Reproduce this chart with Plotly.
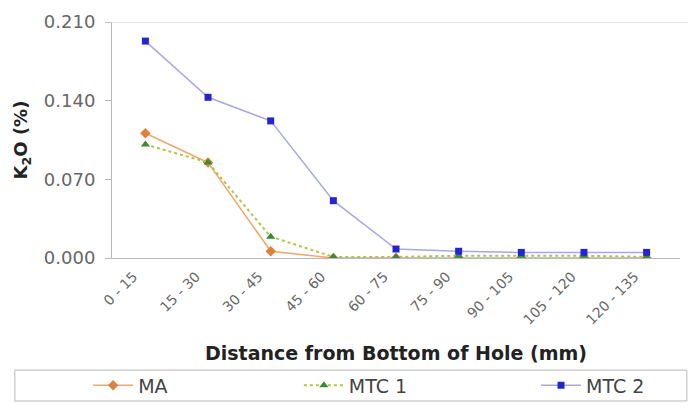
import plotly.graph_objects as go

categories = ["0 - 15", "15 - 30", "30 - 45", "45 - 60", "60 - 75",
              "75 - 90", "90 - 105", "105 - 120", "120 - 135"]
ma = [0.111, 0.085, 0.006, 0.000, 0.000, 0.000, 0.000, 0.000, 0.000]
mtc1 = [0.101, 0.085, 0.019, 0.001, 0.001, 0.002, 0.002, 0.002, 0.001]
mtc2 = [0.193, 0.143, 0.122, 0.051, 0.008, 0.006, 0.005, 0.005, 0.005]
y_ticks = [0.0, 0.07, 0.14, 0.21]

FONT = "DejaVu Sans, Arial, sans-serif"

fig = go.Figure()
fig.add_trace(go.Scatter(
    x=categories, y=ma, name="MA", mode="lines+markers", legend="legend",
    line=dict(color="#f2a46a", width=1.5),
    marker=dict(symbol="diamond", size=8, color="#e0803a")))
fig.add_trace(go.Scatter(
    x=categories, y=mtc1, name="MTC 1", mode="lines+markers", legend="legend2",
    line=dict(color="#b8c24a", width=2, dash="dot"),
    marker=dict(symbol="triangle-up", size=8, color="#3c8a34")))
fig.add_trace(go.Scatter(
    x=categories, y=mtc2, name="MTC 2", mode="lines+markers", legend="legend3",
    line=dict(color="#a8a8e2", width=1.5),
    marker=dict(symbol="square", size=7, color="#2424d0")))

# legend frame across the bottom
fig.add_shape(type="rect", xref="paper", yref="paper",
              x0=-0.171, x1=1.012, y0=-0.606, y1=-0.475,
              line=dict(color="#b8b8b8", width=1), fillcolor="white", layer="below")

legend_common = dict(orientation="h", yanchor="middle", y=-0.54, xanchor="left",
                     bgcolor="rgba(0,0,0,0)", itemwidth=40,
                     font=dict(family=FONT, size=19, color="#444444"))

fig.update_layout(
    width=688, height=403,
    margin=dict(l=112, r=8, t=22, b=145, autoexpand=False),
    paper_bgcolor="white", plot_bgcolor="white",
    font=dict(family=FONT, color="#555555", size=13),
    showlegend=True,
    legend=dict(x=-0.042, **legend_common),
    legend2=dict(x=0.329, **legend_common),
    legend3=dict(x=0.7465, **legend_common),
    xaxis=dict(
        type="category", tickangle=-45, showgrid=False, automargin=False,
        showline=True, linecolor="#b8b8b8", ticks="",
        ticklabelstandoff=4, ticklabelshift=-12,
        tickfont=dict(family=FONT, size=14, color="#666666"),
        title=dict(text="<b>Distance from Bottom of Hole (mm)</b>",
                   font=dict(family=FONT, size=19, color="#222222"), standoff=20)),
    yaxis=dict(
        range=[0, 0.21], tickvals=y_ticks, tickformat=".3f", automargin=False,
        showgrid=False, showline=True, linecolor="#b8b8b8",
        ticks="outside", ticklen=6, tickcolor="#b8b8b8", ticklabelstandoff=6,
        tickfont=dict(family=FONT, size=18, color="#666666"),
        title=dict(text="<b>K<sub>2</sub>O (%)</b>",
                   font=dict(family=FONT, size=18, color="#222222"), standoff=11)),
)
# top frame line at the maximum tick
fig.add_shape(type="line", xref="paper", yref="y", x0=-0.012, x1=1.02, y0=0.21, y1=0.21,
              line=dict(color="#d0d0d0", width=1))

fig.write_html("out.html")
